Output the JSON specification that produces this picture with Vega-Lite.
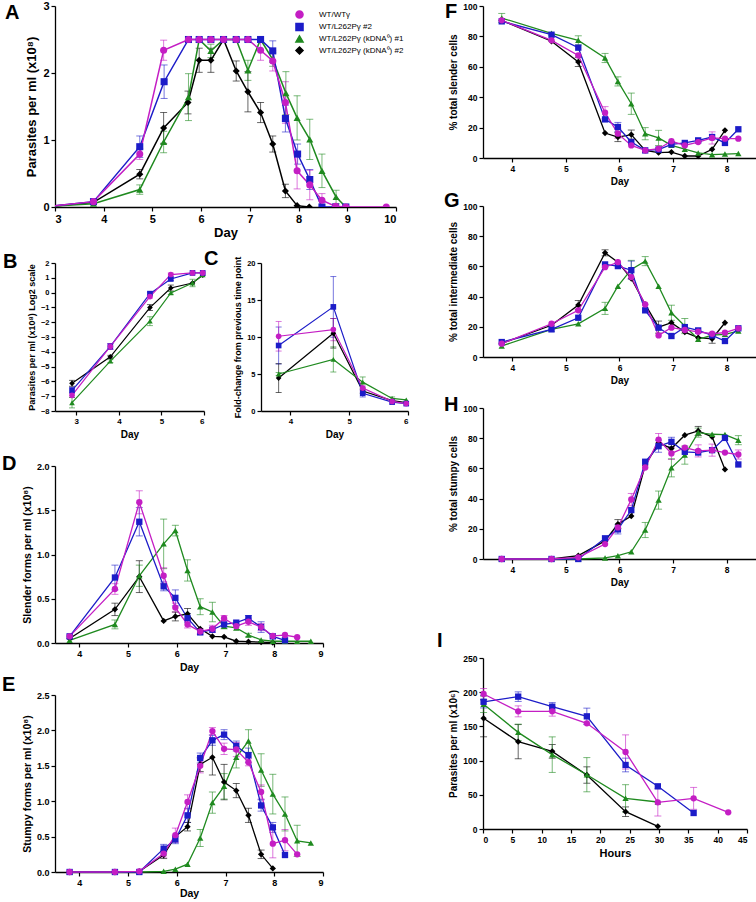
{
"$schema":"https://vega.github.io/schema/vega-lite/v6.json",
"padding":{"left":2,"top":0,"right":0,"bottom":0},
"config":{
 "view":{"stroke":null},
 "font":"Liberation Sans",
 "axis":{"grid":false,"domainColor":"#000","tickColor":"#000","labelColor":"#000","titleColor":"#000","domainWidth":1.3,"tickWidth":1.2,"tickSize":4,"labelFont":"Liberation Sans","labelFontWeight":"bold","titleFont":"Liberation Sans","titleFontWeight":"bold","labelPadding":2,"titlePadding":4},
 "title":{"font":"Liberation Sans","fontWeight":"bold","fontSize":20,"anchor":"start","frame":"group","color":"#000","baseline":"top","offset":0}
},
"datasets":{
"A":[
{"s":"WT/L262Pγ (kDNA⁰) #2","x":2.9,"y":0.01,"e":0},{"s":"WT/L262Pγ (kDNA⁰) #2","x":3.79,"y":0.07,"e":0},{"s":"WT/L262Pγ (kDNA⁰) #2","x":4.74,"y":0.49,"e":0.07},{"s":"WT/L262Pγ (kDNA⁰) #2","x":5.23,"y":1.18,"e":0.23},{"s":"WT/L262Pγ (kDNA⁰) #2","x":5.73,"y":1.56,"e":0.17},{"s":"WT/L262Pγ (kDNA⁰) #2","x":5.96,"y":2.19,"e":0.18},{"s":"WT/L262Pγ (kDNA⁰) #2","x":6.2,"y":2.19,"e":0.18},{"s":"WT/L262Pγ (kDNA⁰) #2","x":6.46,"y":2.5,"e":0},{"s":"WT/L262Pγ (kDNA⁰) #2","x":6.72,"y":2.03,"e":0.15},{"s":"WT/L262Pγ (kDNA⁰) #2","x":6.96,"y":1.72,"e":0.3},{"s":"WT/L262Pγ (kDNA⁰) #2","x":7.22,"y":1.41,"e":0.15},{"s":"WT/L262Pγ (kDNA⁰) #2","x":7.47,"y":0.94,"e":0.12},{"s":"WT/L262Pγ (kDNA⁰) #2","x":7.73,"y":0.24,"e":0.1},{"s":"WT/L262Pγ (kDNA⁰) #2","x":7.97,"y":0.02,"e":0},{"s":"WT/L262Pγ (kDNA⁰) #2","x":8.22,"y":0,"e":0},
{"s":"WT/L262Pγ (kDNA⁰) #1","x":2.9,"y":0.01,"e":0},{"s":"WT/L262Pγ (kDNA⁰) #1","x":3.79,"y":0.05,"e":0},{"s":"WT/L262Pγ (kDNA⁰) #1","x":4.74,"y":0.26,"e":0.07},{"s":"WT/L262Pγ (kDNA⁰) #1","x":5.23,"y":0.97,"e":0.16},{"s":"WT/L262Pγ (kDNA⁰) #1","x":5.74,"y":1.64,"e":0.35},{"s":"WT/L262Pγ (kDNA⁰) #1","x":5.96,"y":2.5,"e":0},{"s":"WT/L262Pγ (kDNA⁰) #1","x":6.2,"y":2.33,"e":0.1},{"s":"WT/L262Pγ (kDNA⁰) #1","x":6.46,"y":2.5,"e":0},{"s":"WT/L262Pγ (kDNA⁰) #1","x":6.72,"y":2.5,"e":0},{"s":"WT/L262Pγ (kDNA⁰) #1","x":6.96,"y":2.04,"e":0.15},{"s":"WT/L262Pγ (kDNA⁰) #1","x":7.22,"y":2.5,"e":0},{"s":"WT/L262Pγ (kDNA⁰) #1","x":7.47,"y":2.2,"e":0.1},{"s":"WT/L262Pγ (kDNA⁰) #1","x":7.74,"y":1.7,"e":0.32},{"s":"WT/L262Pγ (kDNA⁰) #1","x":7.97,"y":1.33,"e":0.33},{"s":"WT/L262Pγ (kDNA⁰) #1","x":8.23,"y":1.01,"e":0.3},{"s":"WT/L262Pγ (kDNA⁰) #1","x":8.48,"y":0.54,"e":0.25},{"s":"WT/L262Pγ (kDNA⁰) #1","x":8.77,"y":0.15,"e":0.1},{"s":"WT/L262Pγ (kDNA⁰) #1","x":8.97,"y":0,"e":0},
{"s":"WT/L262Pγ #2","x":2.9,"y":0.01,"e":0},{"s":"WT/L262Pγ #2","x":3.79,"y":0.08,"e":0},{"s":"WT/L262Pγ #2","x":4.74,"y":0.9,"e":0.16},{"s":"WT/L262Pγ #2","x":5.24,"y":1.87,"e":0.25},{"s":"WT/L262Pγ #2","x":5.74,"y":2.5,"e":0},{"s":"WT/L262Pγ #2","x":5.96,"y":2.5,"e":0},{"s":"WT/L262Pγ #2","x":6.2,"y":2.5,"e":0},{"s":"WT/L262Pγ #2","x":6.46,"y":2.5,"e":0},{"s":"WT/L262Pγ #2","x":6.72,"y":2.5,"e":0},{"s":"WT/L262Pγ #2","x":6.96,"y":2.5,"e":0},{"s":"WT/L262Pγ #2","x":7.22,"y":2.5,"e":0},{"s":"WT/L262Pγ #2","x":7.47,"y":2.33,"e":0.15},{"s":"WT/L262Pγ #2","x":7.73,"y":1.32,"e":0.2},{"s":"WT/L262Pγ #2","x":7.98,"y":0.79,"e":0.15},{"s":"WT/L262Pγ #2","x":8.23,"y":0.41,"e":0.15},{"s":"WT/L262Pγ #2","x":8.48,"y":0,"e":0},{"s":"WT/L262Pγ #2","x":8.76,"y":0,"e":0},{"s":"WT/L262Pγ #2","x":8.97,"y":0,"e":0},
{"s":"WT/WTγ","x":2.9,"y":0.01,"e":0},{"s":"WT/WTγ","x":3.79,"y":0.08,"e":0},{"s":"WT/WTγ","x":4.74,"y":0.79,"e":0.08},{"s":"WT/WTγ","x":5.23,"y":2.34,"e":0.15},{"s":"WT/WTγ","x":5.74,"y":2.5,"e":0},{"s":"WT/WTγ","x":5.96,"y":2.5,"e":0},{"s":"WT/WTγ","x":6.2,"y":2.5,"e":0},{"s":"WT/WTγ","x":6.46,"y":2.5,"e":0},{"s":"WT/WTγ","x":6.72,"y":2.5,"e":0},{"s":"WT/WTγ","x":6.96,"y":2.5,"e":0},{"s":"WT/WTγ","x":7.22,"y":2.34,"e":0.15},{"s":"WT/WTγ","x":7.47,"y":2.18,"e":0.15},{"s":"WT/WTγ","x":7.73,"y":1.56,"e":0.31},{"s":"WT/WTγ","x":7.97,"y":0.54,"e":0.27},{"s":"WT/WTγ","x":8.23,"y":0.33,"e":0.22},{"s":"WT/WTγ","x":8.48,"y":0.1,"e":0.1},{"s":"WT/WTγ","x":8.76,"y":0.01,"e":0},{"s":"WT/WTγ","x":8.97,"y":0,"e":0},{"s":"WT/WTγ","x":9.8,"y":0,"e":0}
],
"B":[
{"s":"WT/L262Pγ (kDNA⁰) #2","x":2.9,"y":-6.13,"e":0.2},{"s":"WT/L262Pγ (kDNA⁰) #2","x":3.8,"y":-4.34,"e":0.1},{"s":"WT/L262Pγ (kDNA⁰) #2","x":4.73,"y":-1.01,"e":0.2},{"s":"WT/L262Pγ (kDNA⁰) #2","x":5.22,"y":0.31,"e":0.2},{"s":"WT/L262Pγ (kDNA⁰) #2","x":5.73,"y":0.65,"e":0},{"s":"WT/L262Pγ (kDNA⁰) #2","x":5.97,"y":1.17,"e":0},
{"s":"WT/L262Pγ (kDNA⁰) #1","x":2.9,"y":-7.44,"e":0.35},{"s":"WT/L262Pγ (kDNA⁰) #1","x":3.8,"y":-4.63,"e":0.1},{"s":"WT/L262Pγ (kDNA⁰) #1","x":4.73,"y":-1.93,"e":0.3},{"s":"WT/L262Pγ (kDNA⁰) #1","x":5.22,"y":-0.02,"e":0.1},{"s":"WT/L262Pγ (kDNA⁰) #1","x":5.73,"y":0.65,"e":0.25},{"s":"WT/L262Pγ (kDNA⁰) #1","x":5.97,"y":1.21,"e":0},
{"s":"WT/L262Pγ #2","x":2.9,"y":-6.6,"e":0.2},{"s":"WT/L262Pγ #2","x":3.8,"y":-3.64,"e":0.2},{"s":"WT/L262Pγ #2","x":4.73,"y":-0.07,"e":0.1},{"s":"WT/L262Pγ #2","x":5.22,"y":0.92,"e":0.1},{"s":"WT/L262Pγ #2","x":5.73,"y":1.33,"e":0},{"s":"WT/L262Pγ #2","x":5.97,"y":1.33,"e":0},
{"s":"WT/WTγ","x":2.9,"y":-6.94,"e":0.15},{"s":"WT/WTγ","x":3.8,"y":-3.64,"e":0.2},{"s":"WT/WTγ","x":4.73,"y":-0.27,"e":0.1},{"s":"WT/WTγ","x":5.22,"y":1.22,"e":0.1},{"s":"WT/WTγ","x":5.73,"y":1.33,"e":0},{"s":"WT/WTγ","x":5.97,"y":1.33,"e":0}
],
"C":[
{"s":"WT/L262Pγ (kDNA⁰) #2","x":3.8,"y":4.45,"e":1.95},{"s":"WT/L262Pγ (kDNA⁰) #2","x":4.73,"y":10.5,"e":2.0},{"s":"WT/L262Pγ (kDNA⁰) #2","x":5.23,"y":2.7,"e":0.3},{"s":"WT/L262Pγ (kDNA⁰) #2","x":5.73,"y":1.4,"e":0},{"s":"WT/L262Pγ (kDNA⁰) #2","x":5.97,"y":1.15,"e":0},
{"s":"WT/L262Pγ (kDNA⁰) #1","x":3.8,"y":5.0,"e":0.2},{"s":"WT/L262Pγ (kDNA⁰) #1","x":4.73,"y":6.97,"e":1.7},{"s":"WT/L262Pγ (kDNA⁰) #1","x":5.23,"y":3.9,"e":0.7},{"s":"WT/L262Pγ (kDNA⁰) #1","x":5.73,"y":1.7,"e":0.2},{"s":"WT/L262Pγ (kDNA⁰) #1","x":5.97,"y":1.5,"e":0},
{"s":"WT/L262Pγ #2","x":3.8,"y":8.85,"e":2.5},{"s":"WT/L262Pγ #2","x":4.73,"y":14.07,"e":4.1},{"s":"WT/L262Pγ #2","x":5.23,"y":2.4,"e":0.5},{"s":"WT/L262Pγ #2","x":5.73,"y":1.2,"e":0},{"s":"WT/L262Pγ #2","x":5.97,"y":1.0,"e":0},
{"s":"WT/WTγ","x":3.8,"y":10.1,"e":2.0},{"s":"WT/WTγ","x":4.73,"y":11.0,"e":1.5},{"s":"WT/WTγ","x":5.23,"y":3.1,"e":0.3},{"s":"WT/WTγ","x":5.73,"y":1.3,"e":0},{"s":"WT/WTγ","x":5.97,"y":1.0,"e":0}
],
"D":[
{"s":"WT/L262Pγ (kDNA⁰) #2","x":3.8,"y":0.05,"e":0},{"s":"WT/L262Pγ (kDNA⁰) #2","x":4.73,"y":0.38,"e":0.07},{"s":"WT/L262Pγ (kDNA⁰) #2","x":5.23,"y":0.75,"e":0.18},{"s":"WT/L262Pγ (kDNA⁰) #2","x":5.73,"y":0.25,"e":0},{"s":"WT/L262Pγ (kDNA⁰) #2","x":5.97,"y":0.3,"e":0.05},{"s":"WT/L262Pγ (kDNA⁰) #2","x":6.22,"y":0.33,"e":0.06},{"s":"WT/L262Pγ (kDNA⁰) #2","x":6.48,"y":0.16,"e":0},{"s":"WT/L262Pγ (kDNA⁰) #2","x":6.73,"y":0.075,"e":0},{"s":"WT/L262Pγ (kDNA⁰) #2","x":6.97,"y":0.07,"e":0},{"s":"WT/L262Pγ (kDNA⁰) #2","x":7.22,"y":0.02,"e":0},{"s":"WT/L262Pγ (kDNA⁰) #2","x":7.47,"y":0.015,"e":0},{"s":"WT/L262Pγ (kDNA⁰) #2","x":7.73,"y":0.01,"e":0},{"s":"WT/L262Pγ (kDNA⁰) #2","x":7.97,"y":0.005,"e":0},
{"s":"WT/L262Pγ (kDNA⁰) #1","x":3.8,"y":0.03,"e":0},{"s":"WT/L262Pγ (kDNA⁰) #1","x":4.73,"y":0.21,"e":0.05},{"s":"WT/L262Pγ (kDNA⁰) #1","x":5.23,"y":0.76,"e":0.12},{"s":"WT/L262Pγ (kDNA⁰) #1","x":5.73,"y":1.12,"e":0.28},{"s":"WT/L262Pγ (kDNA⁰) #1","x":5.97,"y":1.27,"e":0.06},{"s":"WT/L262Pγ (kDNA⁰) #1","x":6.22,"y":0.82,"e":0.12},{"s":"WT/L262Pγ (kDNA⁰) #1","x":6.48,"y":0.41,"e":0.09},{"s":"WT/L262Pγ (kDNA⁰) #1","x":6.73,"y":0.35,"e":0.11},{"s":"WT/L262Pγ (kDNA⁰) #1","x":6.97,"y":0.19,"e":0.03},{"s":"WT/L262Pγ (kDNA⁰) #1","x":7.22,"y":0.17,"e":0},{"s":"WT/L262Pγ (kDNA⁰) #1","x":7.47,"y":0.09,"e":0.02},{"s":"WT/L262Pγ (kDNA⁰) #1","x":7.73,"y":0.035,"e":0},{"s":"WT/L262Pγ (kDNA⁰) #1","x":7.97,"y":0.02,"e":0},{"s":"WT/L262Pγ (kDNA⁰) #1","x":8.22,"y":0.02,"e":0},{"s":"WT/L262Pγ (kDNA⁰) #1","x":8.47,"y":0.02,"e":0},{"s":"WT/L262Pγ (kDNA⁰) #1","x":8.75,"y":0.02,"e":0},
{"s":"WT/L262Pγ #2","x":3.8,"y":0.075,"e":0},{"s":"WT/L262Pγ #2","x":4.73,"y":0.74,"e":0.14},{"s":"WT/L262Pγ #2","x":5.23,"y":1.37,"e":0.16},{"s":"WT/L262Pγ #2","x":5.73,"y":0.64,"e":0.05},{"s":"WT/L262Pγ #2","x":5.97,"y":0.51,"e":0.09},{"s":"WT/L262Pγ #2","x":6.22,"y":0.28,"e":0.05},{"s":"WT/L262Pγ #2","x":6.48,"y":0.12,"e":0},{"s":"WT/L262Pγ #2","x":6.73,"y":0.15,"e":0},{"s":"WT/L262Pγ #2","x":6.97,"y":0.21,"e":0},{"s":"WT/L262Pγ #2","x":7.22,"y":0.23,"e":0},{"s":"WT/L262Pγ #2","x":7.47,"y":0.28,"e":0.03},{"s":"WT/L262Pγ #2","x":7.73,"y":0.18,"e":0.06},{"s":"WT/L262Pγ #2","x":7.97,"y":0.075,"e":0},{"s":"WT/L262Pγ #2","x":8.22,"y":0.03,"e":0},
{"s":"WT/WTγ","x":3.8,"y":0.075,"e":0},{"s":"WT/WTγ","x":4.73,"y":0.61,"e":0.06},{"s":"WT/WTγ","x":5.23,"y":1.59,"e":0.13},{"s":"WT/WTγ","x":5.73,"y":0.76,"e":0.09},{"s":"WT/WTγ","x":5.97,"y":0.4,"e":0.05},{"s":"WT/WTγ","x":6.22,"y":0.21,"e":0.04},{"s":"WT/WTγ","x":6.48,"y":0.13,"e":0.03},{"s":"WT/WTγ","x":6.73,"y":0.16,"e":0.04},{"s":"WT/WTγ","x":6.97,"y":0.28,"e":0.03},{"s":"WT/WTγ","x":7.22,"y":0.19,"e":0},{"s":"WT/WTγ","x":7.47,"y":0.24,"e":0.04},{"s":"WT/WTγ","x":7.73,"y":0.18,"e":0.04},{"s":"WT/WTγ","x":7.97,"y":0.08,"e":0},{"s":"WT/WTγ","x":8.22,"y":0.09,"e":0},{"s":"WT/WTγ","x":8.47,"y":0.065,"e":0}
],
"E":[
{"s":"WT/L262Pγ (kDNA⁰) #2","x":3.8,"y":0,"e":0},{"s":"WT/L262Pγ (kDNA⁰) #2","x":4.73,"y":0,"e":0},{"s":"WT/L262Pγ (kDNA⁰) #2","x":5.23,"y":0.01,"e":0},{"s":"WT/L262Pγ (kDNA⁰) #2","x":5.73,"y":0.24,"e":0.05},{"s":"WT/L262Pγ (kDNA⁰) #2","x":5.97,"y":0.5,"e":0},{"s":"WT/L262Pγ (kDNA⁰) #2","x":6.22,"y":0.64,"e":0.06},{"s":"WT/L262Pγ (kDNA⁰) #2","x":6.48,"y":1.52,"e":0.1},{"s":"WT/L262Pγ (kDNA⁰) #2","x":6.73,"y":1.62,"e":0.25},{"s":"WT/L262Pγ (kDNA⁰) #2","x":6.97,"y":1.27,"e":0.25},{"s":"WT/L262Pγ (kDNA⁰) #2","x":7.22,"y":1.15,"e":0.1},{"s":"WT/L262Pγ (kDNA⁰) #2","x":7.47,"y":0.8,"e":0.1},{"s":"WT/L262Pγ (kDNA⁰) #2","x":7.73,"y":0.25,"e":0.06},{"s":"WT/L262Pγ (kDNA⁰) #2","x":7.97,"y":0.05,"e":0},
{"s":"WT/L262Pγ (kDNA⁰) #1","x":3.8,"y":0,"e":0},{"s":"WT/L262Pγ (kDNA⁰) #1","x":4.73,"y":0,"e":0},{"s":"WT/L262Pγ (kDNA⁰) #1","x":5.23,"y":0,"e":0},{"s":"WT/L262Pγ (kDNA⁰) #1","x":5.73,"y":0.01,"e":0},{"s":"WT/L262Pγ (kDNA⁰) #1","x":5.97,"y":0.04,"e":0},{"s":"WT/L262Pγ (kDNA⁰) #1","x":6.22,"y":0.11,"e":0},{"s":"WT/L262Pγ (kDNA⁰) #1","x":6.48,"y":0.48,"e":0.12},{"s":"WT/L262Pγ (kDNA⁰) #1","x":6.73,"y":0.98,"e":0.15},{"s":"WT/L262Pγ (kDNA⁰) #1","x":6.97,"y":1.21,"e":0.18},{"s":"WT/L262Pγ (kDNA⁰) #1","x":7.22,"y":1.62,"e":0.15},{"s":"WT/L262Pγ (kDNA⁰) #1","x":7.47,"y":1.85,"e":0.16},{"s":"WT/L262Pγ (kDNA⁰) #1","x":7.73,"y":1.44,"e":0.23},{"s":"WT/L262Pγ (kDNA⁰) #1","x":7.97,"y":1.1,"e":0.28},{"s":"WT/L262Pγ (kDNA⁰) #1","x":8.22,"y":0.82,"e":0.24},{"s":"WT/L262Pγ (kDNA⁰) #1","x":8.47,"y":0.44,"e":0.22},{"s":"WT/L262Pγ (kDNA⁰) #1","x":8.75,"y":0.41,"e":0},
{"s":"WT/L262Pγ #2","x":3.8,"y":0,"e":0},{"s":"WT/L262Pγ #2","x":4.73,"y":0,"e":0},{"s":"WT/L262Pγ #2","x":5.23,"y":0,"e":0},{"s":"WT/L262Pγ #2","x":5.73,"y":0.33,"e":0.06},{"s":"WT/L262Pγ #2","x":5.97,"y":0.46,"e":0.06},{"s":"WT/L262Pγ #2","x":6.22,"y":0.8,"e":0.1},{"s":"WT/L262Pγ #2","x":6.48,"y":1.61,"e":0.07},{"s":"WT/L262Pγ #2","x":6.73,"y":1.86,"e":0.07},{"s":"WT/L262Pγ #2","x":6.97,"y":1.94,"e":0.07},{"s":"WT/L262Pγ #2","x":7.22,"y":1.78,"e":0.07},{"s":"WT/L262Pγ #2","x":7.47,"y":1.65,"e":0.1},{"s":"WT/L262Pγ #2","x":7.73,"y":0.94,"e":0.08},{"s":"WT/L262Pγ #2","x":7.97,"y":0.63,"e":0.07},{"s":"WT/L262Pγ #2","x":8.22,"y":0.24,"e":0},
{"s":"WT/WTγ","x":3.8,"y":0,"e":0},{"s":"WT/WTγ","x":4.73,"y":0,"e":0},{"s":"WT/WTγ","x":5.23,"y":0.01,"e":0},{"s":"WT/WTγ","x":5.73,"y":0.26,"e":0.05},{"s":"WT/WTγ","x":5.97,"y":0.52,"e":0.1},{"s":"WT/WTγ","x":6.22,"y":0.99,"e":0.1},{"s":"WT/WTγ","x":6.48,"y":1.5,"e":0.1},{"s":"WT/WTγ","x":6.73,"y":1.99,"e":0.05},{"s":"WT/WTγ","x":6.97,"y":1.74,"e":0.08},{"s":"WT/WTγ","x":7.22,"y":1.73,"e":0.1},{"s":"WT/WTγ","x":7.47,"y":1.55,"e":0.05},{"s":"WT/WTγ","x":7.73,"y":1.13,"e":0.1},{"s":"WT/WTγ","x":7.97,"y":0.4,"e":0.2},{"s":"WT/WTγ","x":8.22,"y":0.45,"e":0.15},{"s":"WT/WTγ","x":8.47,"y":0.25,"e":0}
],
"F":[
{"s":"WT/L262Pγ (kDNA⁰) #2","x":3.8,"y":90.5,"e":0},{"s":"WT/L262Pγ (kDNA⁰) #2","x":4.73,"y":76.8,"e":0},{"s":"WT/L262Pγ (kDNA⁰) #2","x":5.23,"y":63.2,"e":3},{"s":"WT/L262Pγ (kDNA⁰) #2","x":5.73,"y":16.4,"e":0},{"s":"WT/L262Pγ (kDNA⁰) #2","x":5.97,"y":13.8,"e":3},{"s":"WT/L262Pγ (kDNA⁰) #2","x":6.22,"y":15.4,"e":3},{"s":"WT/L262Pγ (kDNA⁰) #2","x":6.48,"y":5,"e":0},{"s":"WT/L262Pγ (kDNA⁰) #2","x":6.73,"y":3.5,"e":0},{"s":"WT/L262Pγ (kDNA⁰) #2","x":6.97,"y":3.9,"e":0},{"s":"WT/L262Pγ (kDNA⁰) #2","x":7.22,"y":1.3,"e":0},{"s":"WT/L262Pγ (kDNA⁰) #2","x":7.47,"y":1.3,"e":0},{"s":"WT/L262Pγ (kDNA⁰) #2","x":7.73,"y":5.7,"e":0},{"s":"WT/L262Pγ (kDNA⁰) #2","x":7.97,"y":18.2,"e":0},
{"s":"WT/L262Pγ (kDNA⁰) #1","x":3.8,"y":92.1,"e":3},{"s":"WT/L262Pγ (kDNA⁰) #1","x":4.73,"y":82,"e":0},{"s":"WT/L262Pγ (kDNA⁰) #1","x":5.23,"y":77.4,"e":3},{"s":"WT/L262Pγ (kDNA⁰) #1","x":5.73,"y":65.8,"e":3},{"s":"WT/L262Pγ (kDNA⁰) #1","x":5.97,"y":50.4,"e":3},{"s":"WT/L262Pγ (kDNA⁰) #1","x":6.22,"y":35.7,"e":7},{"s":"WT/L262Pγ (kDNA⁰) #1","x":6.48,"y":16,"e":4},{"s":"WT/L262Pγ (kDNA⁰) #1","x":6.73,"y":13.2,"e":5},{"s":"WT/L262Pγ (kDNA⁰) #1","x":6.97,"y":8.3,"e":0},{"s":"WT/L262Pγ (kDNA⁰) #1","x":7.22,"y":5.8,"e":0},{"s":"WT/L262Pγ (kDNA⁰) #1","x":7.47,"y":3.3,"e":0},{"s":"WT/L262Pγ (kDNA⁰) #1","x":7.73,"y":2.2,"e":0},{"s":"WT/L262Pγ (kDNA⁰) #1","x":7.97,"y":2.6,"e":0},{"s":"WT/L262Pγ (kDNA⁰) #1","x":8.22,"y":2.9,"e":0},
{"s":"WT/L262Pγ #2","x":3.8,"y":89.9,"e":0},{"s":"WT/L262Pγ #2","x":4.73,"y":81.1,"e":0},{"s":"WT/L262Pγ #2","x":5.23,"y":72.6,"e":0},{"s":"WT/L262Pγ #2","x":5.73,"y":25.4,"e":0},{"s":"WT/L262Pγ #2","x":5.97,"y":20.4,"e":3},{"s":"WT/L262Pγ #2","x":6.22,"y":10.5,"e":0},{"s":"WT/L262Pγ #2","x":6.48,"y":5,"e":0},{"s":"WT/L262Pγ #2","x":6.73,"y":5.5,"e":0},{"s":"WT/L262Pγ #2","x":6.97,"y":9,"e":0},{"s":"WT/L262Pγ #2","x":7.22,"y":9.9,"e":0},{"s":"WT/L262Pγ #2","x":7.47,"y":11.6,"e":0},{"s":"WT/L262Pγ #2","x":7.73,"y":13.8,"e":0},{"s":"WT/L262Pγ #2","x":7.97,"y":9.9,"e":0},{"s":"WT/L262Pγ #2","x":8.22,"y":18.9,"e":0},
{"s":"WT/WTγ","x":3.8,"y":90.6,"e":0},{"s":"WT/WTγ","x":4.73,"y":77.4,"e":0},{"s":"WT/WTγ","x":5.23,"y":67.5,"e":0},{"s":"WT/WTγ","x":5.73,"y":29.8,"e":4},{"s":"WT/WTγ","x":5.97,"y":16,"e":3},{"s":"WT/WTγ","x":6.22,"y":8.3,"e":0},{"s":"WT/WTγ","x":6.48,"y":5,"e":0},{"s":"WT/WTγ","x":6.73,"y":6.1,"e":0},{"s":"WT/WTγ","x":6.97,"y":11,"e":0},{"s":"WT/WTγ","x":7.22,"y":8.3,"e":0},{"s":"WT/WTγ","x":7.47,"y":10.5,"e":0},{"s":"WT/WTγ","x":7.73,"y":13.2,"e":4},{"s":"WT/WTγ","x":7.97,"y":12.7,"e":0},{"s":"WT/WTγ","x":8.22,"y":12.7,"e":0}
],
"G":[
{"s":"WT/L262Pγ (kDNA⁰) #2","x":3.8,"y":9,"e":0},{"s":"WT/L262Pγ (kDNA⁰) #2","x":4.73,"y":21,"e":0},{"s":"WT/L262Pγ (kDNA⁰) #2","x":5.23,"y":34.4,"e":3},{"s":"WT/L262Pγ (kDNA⁰) #2","x":5.73,"y":69,"e":2},{"s":"WT/L262Pγ (kDNA⁰) #2","x":5.97,"y":62.8,"e":0},{"s":"WT/L262Pγ (kDNA⁰) #2","x":6.22,"y":52,"e":0},{"s":"WT/L262Pγ (kDNA⁰) #2","x":6.48,"y":34.8,"e":0},{"s":"WT/L262Pγ (kDNA⁰) #2","x":6.73,"y":19.8,"e":4},{"s":"WT/L262Pγ (kDNA⁰) #2","x":6.97,"y":22.7,"e":0},{"s":"WT/L262Pγ (kDNA⁰) #2","x":7.22,"y":16.5,"e":0},{"s":"WT/L262Pγ (kDNA⁰) #2","x":7.47,"y":12.8,"e":0},{"s":"WT/L262Pγ (kDNA⁰) #2","x":7.73,"y":12.1,"e":3},{"s":"WT/L262Pγ (kDNA⁰) #2","x":7.97,"y":22.7,"e":0},
{"s":"WT/L262Pγ (kDNA⁰) #1","x":3.8,"y":7.3,"e":0},{"s":"WT/L262Pγ (kDNA⁰) #1","x":4.73,"y":18.3,"e":0},{"s":"WT/L262Pγ (kDNA⁰) #1","x":5.23,"y":22,"e":0},{"s":"WT/L262Pγ (kDNA⁰) #1","x":5.73,"y":32.2,"e":4},{"s":"WT/L262Pγ (kDNA⁰) #1","x":5.97,"y":46.9,"e":0},{"s":"WT/L262Pγ (kDNA⁰) #1","x":6.22,"y":58,"e":6},{"s":"WT/L262Pγ (kDNA⁰) #1","x":6.48,"y":63.5,"e":3},{"s":"WT/L262Pγ (kDNA⁰) #1","x":6.73,"y":46.9,"e":0},{"s":"WT/L262Pγ (kDNA⁰) #1","x":6.97,"y":29.3,"e":5},{"s":"WT/L262Pγ (kDNA⁰) #1","x":7.22,"y":20.5,"e":5},{"s":"WT/L262Pγ (kDNA⁰) #1","x":7.47,"y":11.7,"e":0},{"s":"WT/L262Pγ (kDNA⁰) #1","x":7.73,"y":14.5,"e":0},{"s":"WT/L262Pγ (kDNA⁰) #1","x":7.97,"y":15,"e":0},{"s":"WT/L262Pγ (kDNA⁰) #1","x":8.22,"y":17.2,"e":0},
{"s":"WT/L262Pγ #2","x":3.8,"y":9.9,"e":0},{"s":"WT/L262Pγ #2","x":4.73,"y":18.3,"e":0},{"s":"WT/L262Pγ #2","x":5.23,"y":26,"e":0},{"s":"WT/L262Pγ #2","x":5.73,"y":61.3,"e":0},{"s":"WT/L262Pγ #2","x":5.97,"y":60.2,"e":0},{"s":"WT/L262Pγ #2","x":6.22,"y":57.5,"e":6},{"s":"WT/L262Pγ #2","x":6.48,"y":30.9,"e":0},{"s":"WT/L262Pγ #2","x":6.73,"y":19.4,"e":0},{"s":"WT/L262Pγ #2","x":6.97,"y":13.9,"e":0},{"s":"WT/L262Pγ #2","x":7.22,"y":19.8,"e":0},{"s":"WT/L262Pγ #2","x":7.47,"y":17.6,"e":0},{"s":"WT/L262Pγ #2","x":7.73,"y":14.3,"e":0},{"s":"WT/L262Pγ #2","x":7.97,"y":10.6,"e":0},{"s":"WT/L262Pγ #2","x":8.22,"y":19,"e":0},
{"s":"WT/WTγ","x":3.8,"y":8.8,"e":0},{"s":"WT/WTγ","x":4.73,"y":22,"e":0},{"s":"WT/WTγ","x":5.23,"y":30.9,"e":0},{"s":"WT/WTγ","x":5.73,"y":59.5,"e":0},{"s":"WT/WTγ","x":5.97,"y":62.8,"e":0},{"s":"WT/WTγ","x":6.22,"y":52.9,"e":0},{"s":"WT/WTγ","x":6.48,"y":34.8,"e":0},{"s":"WT/WTγ","x":6.73,"y":14.3,"e":0},{"s":"WT/WTγ","x":6.97,"y":19.4,"e":0},{"s":"WT/WTγ","x":7.22,"y":17.9,"e":0},{"s":"WT/WTγ","x":7.47,"y":16.7,"e":0},{"s":"WT/WTγ","x":7.73,"y":15.4,"e":0},{"s":"WT/WTγ","x":7.97,"y":16.1,"e":0},{"s":"WT/WTγ","x":8.22,"y":19,"e":0}
],
"H":[
{"s":"WT/L262Pγ (kDNA⁰) #2","x":3.8,"y":0,"e":0},{"s":"WT/L262Pγ (kDNA⁰) #2","x":4.73,"y":0,"e":0},{"s":"WT/L262Pγ (kDNA⁰) #2","x":5.23,"y":2.2,"e":0},{"s":"WT/L262Pγ (kDNA⁰) #2","x":5.73,"y":12,"e":0},{"s":"WT/L262Pγ (kDNA⁰) #2","x":5.97,"y":23.1,"e":3},{"s":"WT/L262Pγ (kDNA⁰) #2","x":6.22,"y":28.4,"e":0},{"s":"WT/L262Pγ (kDNA⁰) #2","x":6.48,"y":62,"e":0},{"s":"WT/L262Pγ (kDNA⁰) #2","x":6.73,"y":76.9,"e":0},{"s":"WT/L262Pγ (kDNA⁰) #2","x":6.97,"y":73.2,"e":0},{"s":"WT/L262Pγ (kDNA⁰) #2","x":7.22,"y":82,"e":0},{"s":"WT/L262Pγ (kDNA⁰) #2","x":7.47,"y":84.8,"e":3},{"s":"WT/L262Pγ (kDNA⁰) #2","x":7.73,"y":80.9,"e":0},{"s":"WT/L262Pγ (kDNA⁰) #2","x":7.97,"y":59.3,"e":0},
{"s":"WT/L262Pγ (kDNA⁰) #1","x":3.8,"y":0,"e":0},{"s":"WT/L262Pγ (kDNA⁰) #1","x":4.73,"y":0,"e":0},{"s":"WT/L262Pγ (kDNA⁰) #1","x":5.23,"y":0,"e":0},{"s":"WT/L262Pγ (kDNA⁰) #1","x":5.73,"y":0.7,"e":0},{"s":"WT/L262Pγ (kDNA⁰) #1","x":5.97,"y":2.2,"e":0},{"s":"WT/L262Pγ (kDNA⁰) #1","x":6.22,"y":4.8,"e":0},{"s":"WT/L262Pγ (kDNA⁰) #1","x":6.48,"y":19.2,"e":5},{"s":"WT/L262Pγ (kDNA⁰) #1","x":6.73,"y":39,"e":6},{"s":"WT/L262Pγ (kDNA⁰) #1","x":6.97,"y":60.4,"e":6},{"s":"WT/L262Pγ (kDNA⁰) #1","x":7.22,"y":68.8,"e":6},{"s":"WT/L262Pγ (kDNA⁰) #1","x":7.47,"y":83.7,"e":3},{"s":"WT/L262Pγ (kDNA⁰) #1","x":7.73,"y":82.6,"e":0},{"s":"WT/L262Pγ (kDNA⁰) #1","x":7.97,"y":82.4,"e":0},{"s":"WT/L262Pγ (kDNA⁰) #1","x":8.22,"y":78.7,"e":3},
{"s":"WT/L262Pγ #2","x":3.8,"y":0,"e":0},{"s":"WT/L262Pγ #2","x":4.73,"y":0,"e":0},{"s":"WT/L262Pγ #2","x":5.23,"y":0,"e":0},{"s":"WT/L262Pγ #2","x":5.73,"y":13.7,"e":0},{"s":"WT/L262Pγ #2","x":5.97,"y":19.6,"e":3},{"s":"WT/L262Pγ #2","x":6.22,"y":32.4,"e":0},{"s":"WT/L262Pγ #2","x":6.48,"y":64.4,"e":0},{"s":"WT/L262Pγ #2","x":6.73,"y":74.7,"e":4},{"s":"WT/L262Pγ #2","x":6.97,"y":77.6,"e":3},{"s":"WT/L262Pγ #2","x":7.22,"y":71,"e":0},{"s":"WT/L262Pγ #2","x":7.47,"y":70.5,"e":0},{"s":"WT/L262Pγ #2","x":7.73,"y":72.1,"e":0},{"s":"WT/L262Pγ #2","x":7.97,"y":80.2,"e":0},{"s":"WT/L262Pγ #2","x":8.22,"y":62.6,"e":0},
{"s":"WT/WTγ","x":3.8,"y":0,"e":0},{"s":"WT/WTγ","x":4.73,"y":0,"e":0},{"s":"WT/WTγ","x":5.23,"y":1.1,"e":0},{"s":"WT/WTγ","x":5.73,"y":9.9,"e":0},{"s":"WT/WTγ","x":5.97,"y":20.9,"e":0},{"s":"WT/WTγ","x":6.22,"y":39.4,"e":4},{"s":"WT/WTγ","x":6.48,"y":60.6,"e":0},{"s":"WT/WTγ","x":6.73,"y":79.1,"e":4},{"s":"WT/WTγ","x":6.97,"y":69.9,"e":4},{"s":"WT/WTγ","x":7.22,"y":73.8,"e":0},{"s":"WT/WTγ","x":7.47,"y":71.6,"e":4},{"s":"WT/WTγ","x":7.73,"y":72.1,"e":4},{"s":"WT/WTγ","x":7.97,"y":70.5,"e":0},{"s":"WT/WTγ","x":8.22,"y":69.2,"e":3}
],
"I":[
{"s":"WT/L262Pγ (kDNA⁰) #2","x":0.1,"y":161.8,"e":27},{"s":"WT/L262Pγ (kDNA⁰) #2","x":6.0,"y":127.7,"e":25},{"s":"WT/L262Pγ (kDNA⁰) #2","x":11.8,"y":113.5,"e":10},{"s":"WT/L262Pγ (kDNA⁰) #2","x":17.7,"y":78.9,"e":12},{"s":"WT/L262Pγ (kDNA⁰) #2","x":24.3,"y":25.3,"e":7},{"s":"WT/L262Pγ (kDNA⁰) #2","x":29.8,"y":3.9,"e":0},
{"s":"WT/L262Pγ (kDNA⁰) #1","x":0.1,"y":182.3,"e":12},{"s":"WT/L262Pγ (kDNA⁰) #1","x":6.0,"y":141.3,"e":12},{"s":"WT/L262Pγ (kDNA⁰) #1","x":11.8,"y":108.7,"e":26},{"s":"WT/L262Pγ (kDNA⁰) #1","x":17.7,"y":79.4,"e":25},{"s":"WT/L262Pγ (kDNA⁰) #1","x":24.3,"y":44.8,"e":20},{"s":"WT/L262Pγ (kDNA⁰) #1","x":29.8,"y":39.5,"e":0},
{"s":"WT/L262Pγ #2","x":0.1,"y":186,"e":9},{"s":"WT/L262Pγ #2","x":6.0,"y":193.5,"e":7},{"s":"WT/L262Pγ #2","x":11.8,"y":178.8,"e":6},{"s":"WT/L262Pγ #2","x":17.7,"y":164.7,"e":12},{"s":"WT/L262Pγ #2","x":24.3,"y":93.6,"e":10},{"s":"WT/L262Pγ #2","x":29.8,"y":62.4,"e":0},{"s":"WT/L262Pγ #2","x":35.9,"y":23.4,"e":0},
{"s":"WT/WTγ","x":0.1,"y":197.4,"e":8},{"s":"WT/WTγ","x":6.0,"y":172,"e":8},{"s":"WT/WTγ","x":11.8,"y":172,"e":7},{"s":"WT/WTγ","x":17.7,"y":154.5,"e":0},{"s":"WT/WTγ","x":24.3,"y":112.6,"e":25},{"s":"WT/WTγ","x":29.8,"y":39,"e":20},{"s":"WT/WTγ","x":35.9,"y":44.8,"e":16},{"s":"WT/WTγ","x":41.8,"y":24.4,"e":0}
]
},
"spacing":27,
"resolve":{"scale":{"color":"independent","shape":"independent","x":"independent","y":"independent"}},
"hconcat":[
{"spacing":2,
 "resolve":{"scale":{"color":"independent","shape":"independent","x":"independent","y":"independent"}},
 "vconcat":[
 {"width":341,"height":201,"data":{"name":"A"},
  "title":{"text":"A","dx":-50,"dy":27},
  "encoding":{
   "x":{"field":"x","type":"quantitative","scale":{"domain":[3,10],"nice":false,"zero":false},"axis":{"title":"Day","values":[3,4,5,6,7,8,9,10],"labelFontSize":11,"titleFontSize":13,"titlePadding":2}},
   "y":{"field":"y","type":"quantitative","scale":{"domain":[0,3],"nice":false,"zero":false},"axis":{"title":"Parasites per ml (x10⁸)","values":[0,1,2,3],"labelFontSize":11,"titleFontSize":13}},
   "color":{"field":"s","type":"nominal","scale":{"domain":["WT/WTγ","WT/L262Pγ #2","WT/L262Pγ (kDNA⁰) #1","WT/L262Pγ (kDNA⁰) #2"],"range":["#c41ec4","#1c1cc8","#1f8a1f","#000000"]},
    "legend":{"orient":"none","legendX":240,"legendY":4,"title":null,"labelFontSize":8,"labelFont":"Liberation Sans","labelColor":"#000","symbolSize":50,"labelOffset":15,"rowPadding":-2.5,"padding":0,"symbolStrokeWidth":1.5,"symbolOpacity":1,
     "encoding":{"symbols":{
      "shape":{"condition":[{"test":"datum.value==='WT/WTγ'","value":"M-2.3,0H2.3M0.85,0A0.85,0.85,0,1,1,-0.85,0A0.85,0.85,0,1,1,0.85,0Z"},{"test":"datum.value==='WT/L262Pγ #2'","value":"M-2.3,0H2.3M-0.85,-0.85H0.85V0.85H-0.85Z"},{"test":"datum.value==='WT/L262Pγ (kDNA⁰) #1'","value":"M-2.3,0H2.3M0,-0.95L0.95,0.7H-0.95Z"}],"value":"M-2.3,0H2.3M0,-0.8L0.8,0L0,0.8L-0.8,0Z"},
      "stroke":{"condition":[{"test":"datum.value==='WT/WTγ'","value":"#c41ec4"},{"test":"datum.value==='WT/L262Pγ #2'","value":"#1c1cc8"},{"test":"datum.value==='WT/L262Pγ (kDNA⁰) #1'","value":"#1f8a1f"}],"value":"#000000"},
      "opacity":{"value":1},
      "strokeWidth":{"value":1.5}}}}}
  },
  "layer":[
   {"data":{"values":[{"y":2.5}]},"mark":{"type":"rule","strokeDash":[5,4],"color":"#808080","strokeWidth":1},"encoding":{"x":{"datum":3},"x2":{"datum":10},"y":{"field":"y","type":"quantitative"},"color":{"value":"#808080"}}},
   {"transform":[{"filter":"datum.e > 0"}],"mark":{"type":"errorbar","clip":true,"thickness":1,"ticks":{"size":7,"opacity":0.6},"rule":{"opacity":0.6}},"encoding":{"yError":{"field":"e"}}},
   {"mark":{"type":"line","strokeWidth":1.5,"clip":true},"encoding":{}},
   {"mark":{"type":"point","filled":true,"opacity":1,"size":50,"clip":true},"encoding":{"shape":{"field":"s","type":"nominal","scale":{"domain":["WT/WTγ","WT/L262Pγ #2","WT/L262Pγ (kDNA⁰) #1","WT/L262Pγ (kDNA⁰) #2"],"range":["circle","square","triangle-up","diamond"]},"legend":null}}}
  ]
 },
 {"bounds":"flush","spacing":57,
  "resolve":{"scale":{"color":"independent","shape":"independent","x":"independent","y":"independent"}},
  "hconcat":[
  {"width":149,"height":148,"data":{"name":"B"},
   "title":{"text":["","B"],"lineHeight":8,"dx":-52,"dy":17},
   "encoding":{
    "x":{"field":"x","type":"quantitative","scale":{"domain":[2.5,6],"nice":false,"zero":false},"axis":{"title":"Day","values":[3,4,5,6],"labelFontSize":8,"titleFontSize":10}},
    "y":{"field":"y","type":"quantitative","scale":{"domain":[-8,2],"nice":false,"zero":false},"axis":{"title":"Parasites per ml (x10⁸) Log2 scale","values":[-8,-7,-6,-5,-4,-3,-2,-1,0,1,2],"labelFontSize":7.5,"titleFontSize":9}},
    "color":{"field":"s","type":"nominal","scale":{"domain":["WT/WTγ","WT/L262Pγ #2","WT/L262Pγ (kDNA⁰) #1","WT/L262Pγ (kDNA⁰) #2"],"range":["#c41ec4","#1c1cc8","#1f8a1f","#000000"]},"legend":null}
   },
   "layer":[
    {"transform":[{"filter":"datum.e > 0"}],"mark":{"type":"errorbar","thickness":1,"ticks":{"size":6,"opacity":0.6},"rule":{"opacity":0.6}},"encoding":{"yError":{"field":"e"}}},
    {"mark":{"type":"line","strokeWidth":1.2},"encoding":{}},
    {"mark":{"type":"point","filled":true,"opacity":1,"size":32},"encoding":{"shape":{"field":"s","type":"nominal","scale":{"domain":["WT/WTγ","WT/L262Pγ #2","WT/L262Pγ (kDNA⁰) #1","WT/L262Pγ (kDNA⁰) #2"],"range":["circle","square","triangle-up","diamond"]},"legend":null}}}
   ]
  },
  {"width":147,"height":148,"data":{"name":"C"},
   "title":{"text":["","C"],"lineHeight":8,"dx":-57,"dy":17},
   "encoding":{
    "x":{"field":"x","type":"quantitative","scale":{"domain":[3.5,6],"nice":false,"zero":false},"axis":{"title":"Day","values":[4,5,6],"labelFontSize":8,"titleFontSize":10}},
    "y":{"field":"y","type":"quantitative","scale":{"domain":[0,20],"nice":false,"zero":false},"axis":{"title":"Fold-change from previous time point","values":[0,5,10,15,20],"labelFontSize":7.5,"titleFontSize":9}},
    "color":{"field":"s","type":"nominal","scale":{"domain":["WT/WTγ","WT/L262Pγ #2","WT/L262Pγ (kDNA⁰) #1","WT/L262Pγ (kDNA⁰) #2"],"range":["#c41ec4","#1c1cc8","#1f8a1f","#000000"]},"legend":null}
   },
   "layer":[
    {"transform":[{"filter":"datum.e > 0"}],"mark":{"type":"errorbar","thickness":1,"ticks":{"size":6,"opacity":0.6},"rule":{"opacity":0.6}},"encoding":{"yError":{"field":"e"}}},
    {"mark":{"type":"line","strokeWidth":1.2},"encoding":{}},
    {"mark":{"type":"point","filled":true,"opacity":1,"size":32},"encoding":{"shape":{"field":"s","type":"nominal","scale":{"domain":["WT/WTγ","WT/L262Pγ #2","WT/L262Pγ (kDNA⁰) #1","WT/L262Pγ (kDNA⁰) #2"],"range":["circle","square","triangle-up","diamond"]},"legend":null}}}
   ]
  }
 ]},
 {"width":268,"height":177,"data":{"name":"D"},
  "title":{"text":["","D"],"lineHeight":13,"dx":-53,"dy":16},
  "encoding":{
   "x":{"field":"x","type":"quantitative","scale":{"domain":[3.5,9],"nice":false,"zero":false},"axis":{"title":"Day","values":[4,5,6,7,8,9],"labelFontSize":9,"titleFontSize":10.5}},
   "y":{"field":"y","type":"quantitative","scale":{"domain":[0,2],"nice":false,"zero":false},"axis":{"title":"Slender forms per ml (x10⁸)","values":[0,0.5,1,1.5,2],"format":".1f","labelFontSize":9,"titleFontSize":10.5}},
   "color":{"field":"s","type":"nominal","scale":{"domain":["WT/WTγ","WT/L262Pγ #2","WT/L262Pγ (kDNA⁰) #1","WT/L262Pγ (kDNA⁰) #2"],"range":["#c41ec4","#1c1cc8","#1f8a1f","#000000"]},"legend":null}
  },
  "layer":[
   {"transform":[{"filter":"datum.e > 0"}],"mark":{"type":"errorbar","thickness":1,"ticks":{"size":7,"opacity":0.6},"rule":{"opacity":0.6}},"encoding":{"yError":{"field":"e"}}},
   {"mark":{"type":"line","strokeWidth":1.3},"encoding":{}},
   {"mark":{"type":"point","filled":true,"opacity":1,"size":40},"encoding":{"shape":{"field":"s","type":"nominal","scale":{"domain":["WT/WTγ","WT/L262Pγ #2","WT/L262Pγ (kDNA⁰) #1","WT/L262Pγ (kDNA⁰) #2"],"range":["circle","square","triangle-up","diamond"]},"legend":null}}}
  ]
 },
 {"width":268,"height":177,"data":{"name":"E"},
  "title":{"text":"E","dx":-53,"dy":8},
  "encoding":{
   "x":{"field":"x","type":"quantitative","scale":{"domain":[3.5,9],"nice":false,"zero":false},"axis":{"title":"Day","values":[4,5,6,7,8,9],"labelFontSize":9,"titleFontSize":10.5,"titlePadding":1}},
   "y":{"field":"y","type":"quantitative","scale":{"domain":[0,2.5],"nice":false,"zero":false},"axis":{"title":"Stumpy forms per ml (x10⁸)","values":[0,0.5,1,1.5,2,2.5],"format":".1f","labelFontSize":9,"titleFontSize":10.5}},
   "color":{"field":"s","type":"nominal","scale":{"domain":["WT/WTγ","WT/L262Pγ #2","WT/L262Pγ (kDNA⁰) #1","WT/L262Pγ (kDNA⁰) #2"],"range":["#c41ec4","#1c1cc8","#1f8a1f","#000000"]},"legend":null}
  },
  "layer":[
   {"transform":[{"filter":"datum.e > 0"}],"mark":{"type":"errorbar","thickness":1,"ticks":{"size":7,"opacity":0.6},"rule":{"opacity":0.6}},"encoding":{"yError":{"field":"e"}}},
   {"mark":{"type":"line","strokeWidth":1.3},"encoding":{}},
   {"mark":{"type":"point","filled":true,"opacity":1,"size":40},"encoding":{"shape":{"field":"s","type":"nominal","scale":{"domain":["WT/WTγ","WT/L262Pγ #2","WT/L262Pγ (kDNA⁰) #1","WT/L262Pγ (kDNA⁰) #2"],"range":["circle","square","triangle-up","diamond"]},"legend":null}}}
  ]
 }
 ]
},
{"spacing":4,
 "resolve":{"scale":{"color":"independent","shape":"independent","x":"independent","y":"independent"}},
 "vconcat":[
 {"width":273,"height":152,"data":{"name":"F"},
  "title":{"text":"F","dx":-38,"dy":24},
  "encoding":{
   "x":{"field":"x","type":"quantitative","scale":{"domain":[3.45,8.55],"nice":false,"zero":false},"axis":{"title":"Day","values":[4,5,6,7,8],"labelFontSize":8.5,"titleFontSize":10}},
   "y":{"field":"y","type":"quantitative","scale":{"domain":[0,100],"nice":false,"zero":false},"axis":{"title":"% total slender cells","values":[0,20,40,60,80,100],"labelFontSize":8.5,"titleFontSize":10}},
   "color":{"field":"s","type":"nominal","scale":{"domain":["WT/WTγ","WT/L262Pγ #2","WT/L262Pγ (kDNA⁰) #1","WT/L262Pγ (kDNA⁰) #2"],"range":["#c41ec4","#1c1cc8","#1f8a1f","#000000"]},"legend":null}
  },
  "layer":[
   {"transform":[{"filter":"datum.e > 0"}],"mark":{"type":"errorbar","thickness":1,"ticks":{"size":7,"opacity":0.6},"rule":{"opacity":0.6}},"encoding":{"yError":{"field":"e"}}},
   {"mark":{"type":"line","strokeWidth":1.3},"encoding":{}},
   {"mark":{"type":"point","filled":true,"opacity":1,"size":40},"encoding":{"shape":{"field":"s","type":"nominal","scale":{"domain":["WT/WTγ","WT/L262Pγ #2","WT/L262Pγ (kDNA⁰) #1","WT/L262Pγ (kDNA⁰) #2"],"range":["circle","square","triangle-up","diamond"]},"legend":null}}}
  ]
 },
 {"width":273,"height":151,"data":{"name":"G"},
  "title":{"text":"G","dx":-39,"dy":13},
  "encoding":{
   "x":{"field":"x","type":"quantitative","scale":{"domain":[3.45,8.55],"nice":false,"zero":false},"axis":{"title":"Day","values":[4,5,6,7,8],"labelFontSize":8.5,"titleFontSize":10}},
   "y":{"field":"y","type":"quantitative","scale":{"domain":[0,100],"nice":false,"zero":false},"axis":{"title":"% total intermediate cells","values":[0,20,40,60,80,100],"labelFontSize":8.5,"titleFontSize":10}},
   "color":{"field":"s","type":"nominal","scale":{"domain":["WT/WTγ","WT/L262Pγ #2","WT/L262Pγ (kDNA⁰) #1","WT/L262Pγ (kDNA⁰) #2"],"range":["#c41ec4","#1c1cc8","#1f8a1f","#000000"]},"legend":null}
  },
  "layer":[
   {"transform":[{"filter":"datum.e > 0"}],"mark":{"type":"errorbar","thickness":1,"ticks":{"size":7,"opacity":0.6},"rule":{"opacity":0.6}},"encoding":{"yError":{"field":"e"}}},
   {"mark":{"type":"line","strokeWidth":1.3},"encoding":{}},
   {"mark":{"type":"point","filled":true,"opacity":1,"size":40},"encoding":{"shape":{"field":"s","type":"nominal","scale":{"domain":["WT/WTγ","WT/L262Pγ #2","WT/L262Pγ (kDNA⁰) #1","WT/L262Pγ (kDNA⁰) #2"],"range":["circle","square","triangle-up","diamond"]},"legend":null}}}
  ]
 },
 {"width":273,"height":151,"data":{"name":"H"},
  "title":{"text":["","H"],"lineHeight":5,"dx":-39,"dy":15},
  "encoding":{
   "x":{"field":"x","type":"quantitative","scale":{"domain":[3.45,8.55],"nice":false,"zero":false},"axis":{"title":"Day","values":[4,5,6,7,8],"labelFontSize":8.5,"titleFontSize":10}},
   "y":{"field":"y","type":"quantitative","scale":{"domain":[0,100],"nice":false,"zero":false},"axis":{"title":"% total stumpy cells","values":[0,20,40,60,80,100],"labelFontSize":8.5,"titleFontSize":10}},
   "color":{"field":"s","type":"nominal","scale":{"domain":["WT/WTγ","WT/L262Pγ #2","WT/L262Pγ (kDNA⁰) #1","WT/L262Pγ (kDNA⁰) #2"],"range":["#c41ec4","#1c1cc8","#1f8a1f","#000000"]},"legend":null}
  },
  "layer":[
   {"transform":[{"filter":"datum.e > 0"}],"mark":{"type":"errorbar","thickness":1,"ticks":{"size":7,"opacity":0.6},"rule":{"opacity":0.6}},"encoding":{"yError":{"field":"e"}}},
   {"mark":{"type":"line","strokeWidth":1.3},"encoding":{}},
   {"mark":{"type":"point","filled":true,"opacity":1,"size":40},"encoding":{"shape":{"field":"s","type":"nominal","scale":{"domain":["WT/WTγ","WT/L262Pγ #2","WT/L262Pγ (kDNA⁰) #1","WT/L262Pγ (kDNA⁰) #2"],"range":["circle","square","triangle-up","diamond"]},"legend":null}}}
  ]
 },
 {"width":264,"height":171,"data":{"name":"I"},
  "title":{"text":["","I"],"lineHeight":39,"dx":-46,"dy":1},
  "encoding":{
   "x":{"field":"x","type":"quantitative","scale":{"domain":[0,45],"nice":false,"zero":false},"axis":{"title":"Hours","values":[0,5,10,15,20,25,30,35,40,45],"labelFontSize":8.5,"titleFontSize":11}},
   "y":{"field":"y","type":"quantitative","scale":{"domain":[0,250],"nice":false,"zero":false},"axis":{"title":"Parasites per ml (x10⁶)","values":[0,50,100,150,200,250],"labelFontSize":8.5,"titleFontSize":10}},
   "color":{"field":"s","type":"nominal","scale":{"domain":["WT/WTγ","WT/L262Pγ #2","WT/L262Pγ (kDNA⁰) #1","WT/L262Pγ (kDNA⁰) #2"],"range":["#c41ec4","#1c1cc8","#1f8a1f","#000000"]},"legend":null}
  },
  "layer":[
   {"transform":[{"filter":"datum.e > 0"}],"mark":{"type":"errorbar","thickness":1,"ticks":{"size":7,"opacity":0.6},"rule":{"opacity":0.6}},"encoding":{"yError":{"field":"e"}}},
   {"mark":{"type":"line","strokeWidth":1.3},"encoding":{}},
   {"mark":{"type":"point","filled":true,"opacity":1,"size":40},"encoding":{"shape":{"field":"s","type":"nominal","scale":{"domain":["WT/WTγ","WT/L262Pγ #2","WT/L262Pγ (kDNA⁰) #1","WT/L262Pγ (kDNA⁰) #2"],"range":["circle","square","triangle-up","diamond"]},"legend":null}}}
  ]
 }
 ]
}
]
}
